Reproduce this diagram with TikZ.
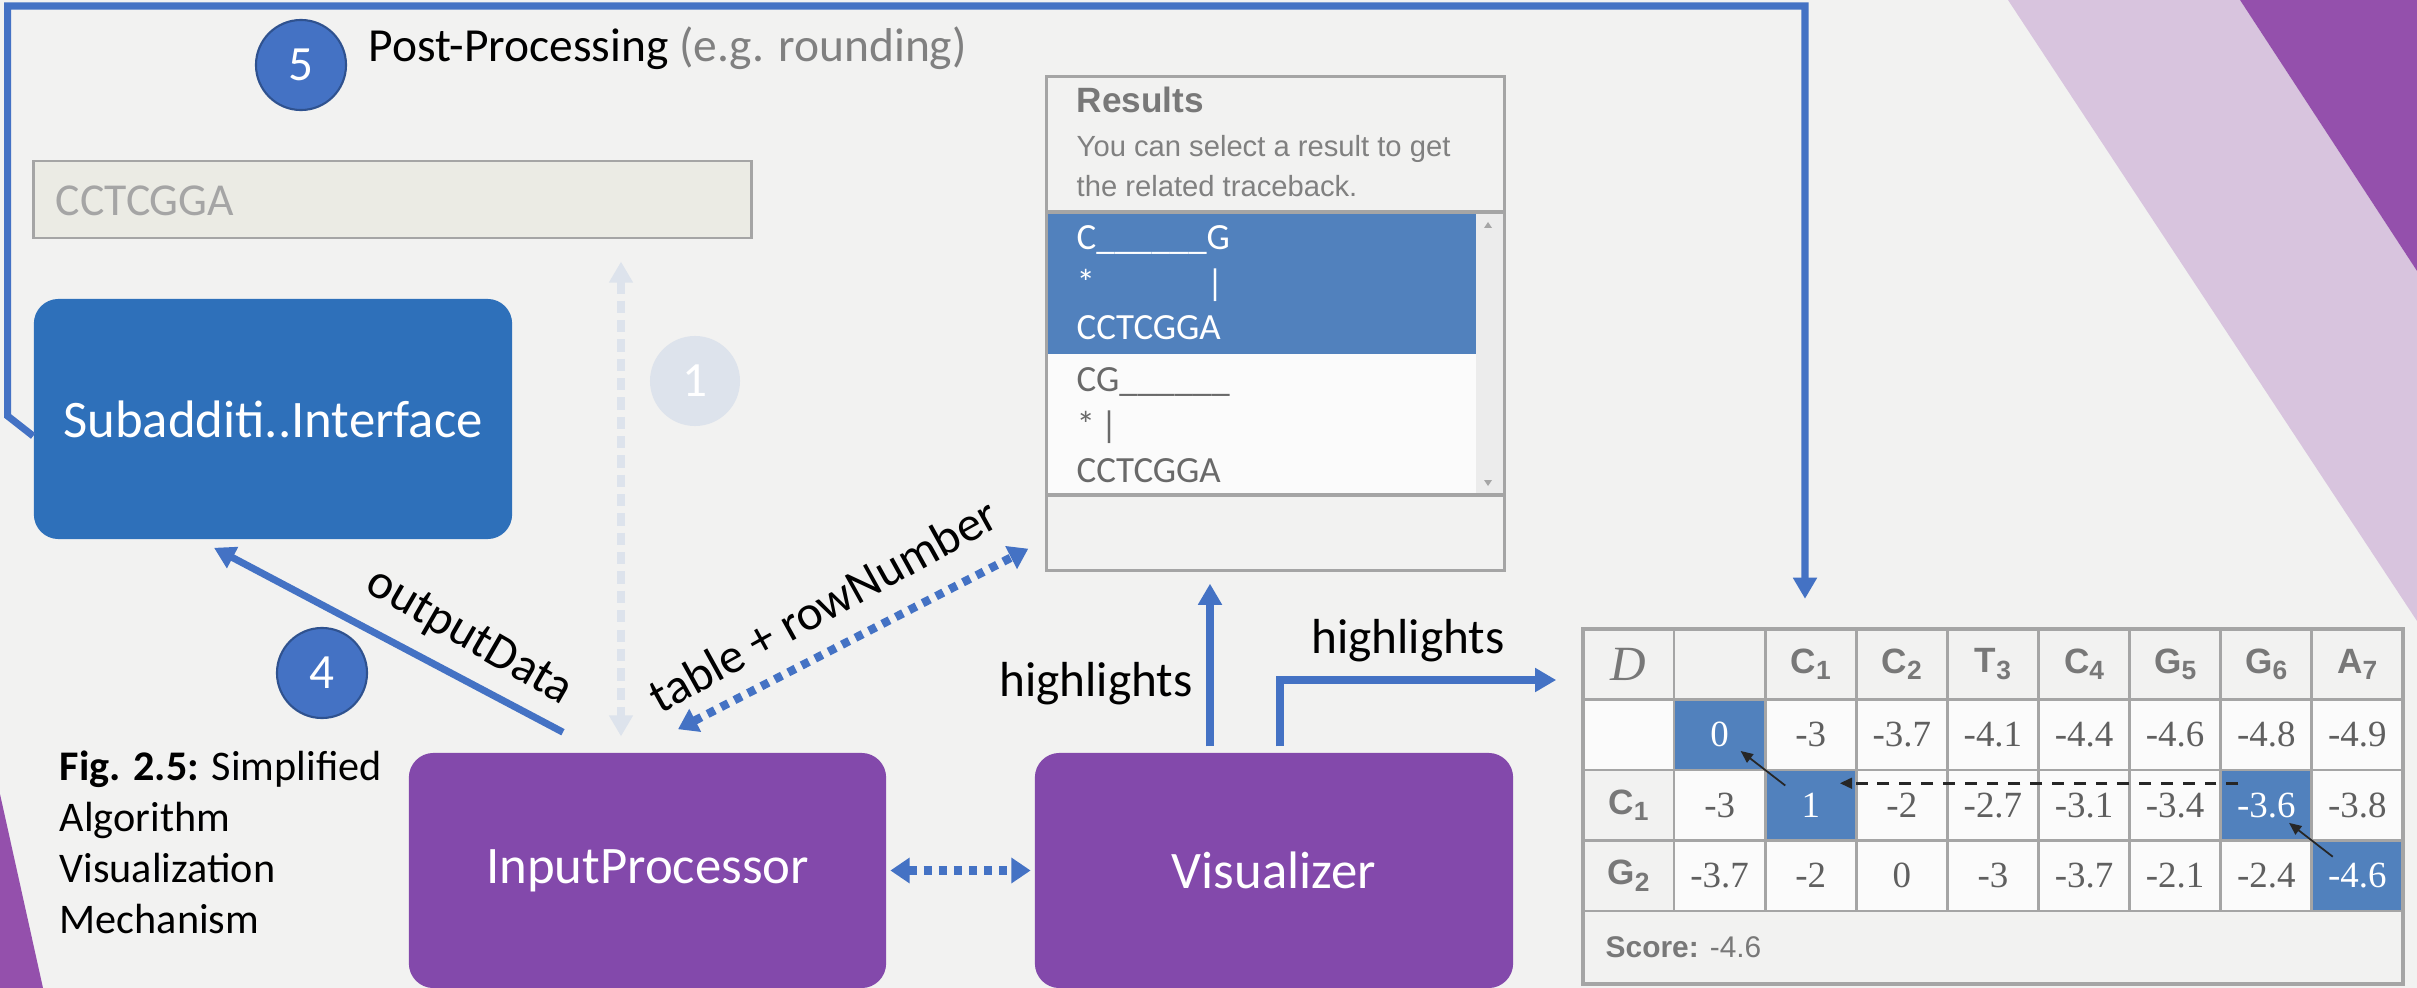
\documentclass[tikz,border=0pt]{standalone}
\usepackage{fontspec}
\setmainfont{Carlito}
\newfontfamily\arialf{Liberation Sans}
\newfontfamily\timesf{Liberation Serif}
\usepackage{tikz}
\usetikzlibrary{arrows.meta,calc,positioning}
\definecolor{bgray}{RGB}{242,242,241}
\definecolor{subblue}{RGB}{46,112,186}
\definecolor{procpurple}{RGB}{131,73,171}
\definecolor{flowblue}{RGB}{68,114,196}
\definecolor{ringblue}{RGB}{47,82,143}
\definecolor{faintblue}{RGB}{221,227,236}
\definecolor{selblue}{RGB}{81,129,189}
\definecolor{gridgray}{RGB}{165,165,165}
\definecolor{cellwhite}{RGB}{251,251,251}
\definecolor{numgray}{RGB}{95,95,95}
\definecolor{hdgray}{RGB}{120,120,120}
\definecolor{hintgray}{RGB}{128,128,128}
\definecolor{itemgray}{RGB}{105,105,105}
\definecolor{fieldfill}{RGB}{235,235,228}
\definecolor{fieldtext}{RGB}{165,165,165}
\definecolor{lilac}{RGB}{216,196,222}
\definecolor{plum}{RGB}{148,80,172}
\definecolor{scrollgray}{RGB}{236,236,236}
\newcommand{\sz}[1]{\fontsize{#1}{#1}\selectfont}
\newcommand{\colhd}[2]{{\arialf\bfseries\sz{10}#1\raisebox{-0.35ex}{\sz{7.5}#2}}}

\begin{document}
\begin{tikzpicture}[x=0.01cm,y=-0.01cm,
	flow/.style={draw=flowblue,line width=2pt,-{Triangle[width=6.5pt,length=6pt]}},
	dots/.style={draw=flowblue,line width=2.4pt,dash pattern=on 2.3pt off 2pt,{Triangle[width=7pt,length=5.5pt]}-{Triangle[width=7pt,length=5.5pt]}},
	faint/.style={draw=faintblue,line width=2pt,dash pattern=on 3.5pt off 2pt,{Triangle[width=6.5pt,length=6pt]}-{Triangle[width=6.5pt,length=6pt]}},
	comp/.style={rounded corners=7pt,text=white,font=\sz{15}},
	num/.style={circle,minimum size=0.9cm,inner sep=0pt,fill=flowblue,draw=ringblue,line width=0.6pt,text=white,font=\sz{14}},
	lbl/.style={font=\sz{14}},
	itm/.style={anchor=base west,inner sep=0pt,font=\sz{10.5}},
	cell/.style={draw=gridgray,line width=0.8pt,minimum width=0.911cm,minimum height=0.705cm,inner sep=0pt,fill=cellwhite,text=numgray,font=\timesf\sz{10.5}},
	hicell/.style={fill=selblue,text=white},
	hdcell/.style={fill=bgray,text=hdgray},
	plcell/.style={},
	back/.style={draw=black!85,line width=0.5pt,-{Triangle[width=3pt,length=3.5pt]}}]
	\fill[bgray] (0,0) rectangle (2417,988);
	\useasboundingbox (0,0) rectangle (2417,988);
	\fill[lilac] (2008,0) -- (2240,0) -- (2417,271) -- (2417,621) -- cycle;
	\fill[plum] (2240,0) -- (2417,0) -- (2417,271) -- cycle;
	\fill[plum] (0,794) -- (43,988) -- (0,988) -- cycle;

	\node[comp,fill=subblue,minimum width=4.78cm,minimum height=2.4cm] (sub) at (273,419) {Subadditi..Interface};
	\node[comp,fill=procpurple,minimum width=4.77cm,minimum height=2.35cm] (inp) at (647.5,870.5) {InputProcessor};
	\node[comp,fill=procpurple,minimum width=4.78cm,minimum height=2.35cm] (vis) at (1274,870.5) {Visualizer};

	\node[draw=gridgray,line width=0.8pt,fill=fieldfill,minimum width=7.17cm,minimum height=0.77cm] (field) at (392.5,199.5) {};
	\node[anchor=base west,inner sep=0pt,text=fieldtext,font=\sz{13}] (seq) at (55,216) {CCTCGGA};

	\node[num] (n5) at (301,65) {5};
	\node[anchor=base west,inner sep=0pt,font=\sz{13.5}] (post) at (368,62) {Post-Processing \textcolor{hintgray}{(e.g. rounding)}};
	\node[num] (n4) at (322,673) {4};
	\node[num,fill=faintblue,draw=none] (n1) at (695,381) {1};

	\node[anchor=north west,inner sep=0pt,align=left,font=\fontsize{12}{14.5}\selectfont] (cap) at (59,750) {\textbf{Fig. 2.5:} Simplified\\Algorithm\\Visualization\\Mechanism};

	\fill[selblue] (1048,213) rectangle (1476,354);
	\fill[cellwhite] (1048,354) rectangle (1476,495);
	\fill[scrollgray] (1476,213) rectangle (1503,495);
	\fill[gray!70] (1484,228) -- (1492,228) -- (1488,222) -- cycle;
	\fill[gray!70] (1484,480) -- (1492,480) -- (1488,486) -- cycle;
	\draw[gridgray,line width=0.9pt] (1047,212) -- (1504,212) (1047,495) -- (1504,495);
	\node[draw=gridgray,line width=0.9pt,minimum width=4.57cm,minimum height=4.93cm] (res) at (1275.5,323.5) {};
	\node[anchor=base west,inner sep=0pt,font=\arialf\bfseries\sz{10},text=hdgray] (rtitle) at (1076,113) {Results};
	\node[anchor=base west,inner sep=0pt,font=\arialf\sz{8.3},text=hintgray] (rhint1) at (1076,157) {You can select a result to get};
	\node[anchor=base west,inner sep=0pt,font=\arialf\sz{8.3},text=hintgray] (rhint2) at (1076,197) {the related traceback.};
	\node[itm,text=white] (a1) at (1076,250) {C\_\_\_\_\_\_G};
	\node[itm,text=white] (a2) at (1076,296) {*};
	\node[itm,text=white,anchor=base] (a3) at (1215,296) {|};
	\node[itm,text=white] (a4) at (1076,340) {CCTCGGA};
	\node[itm,text=itemgray] (b1) at (1076,392) {CG\_\_\_\_\_\_};
	\node[itm,text=itemgray] (b2) at (1076,438) {*};
	\node[itm,text=itemgray,anchor=base] (b3) at (1109,438) {|};
	\node[itm,text=itemgray] (b4) at (1076,482) {CCTCGGA};

	\foreach \v/\s [count=\j from 0] in {{\timesf\itshape\sz{14}D}/hdcell,{}/hdcell,\colhd{C}{1}/hdcell,\colhd{C}{2}/hdcell,\colhd{T}{3}/hdcell,\colhd{C}{4}/hdcell,\colhd{G}{5}/hdcell,\colhd{G}{6}/hdcell,\colhd{A}{7}/hdcell}
		\node[cell,\s] (c-0-\j) at ({1628.55+91.1*\j},664.25) {\v};
	\foreach \v/\s [count=\j from 0] in {{}/plcell,0/hicell,-3/plcell,-3.7/plcell,-4.1/plcell,-4.4/plcell,-4.6/plcell,-4.8/plcell,-4.9/plcell}
		\node[cell,\s] (c-1-\j) at ({1628.55+91.1*\j},734.75) {\v};
	\foreach \v/\s [count=\j from 0] in {\colhd{C}{1}/hdcell,-3/plcell,1/hicell,-2/plcell,-2.7/plcell,-3.1/plcell,-3.4/plcell,-3.6/hicell,-3.8/plcell}
		\node[cell,\s] (c-2-\j) at ({1628.55+91.1*\j},805.25) {\v};
	\foreach \v/\s [count=\j from 0] in {\colhd{G}{2}/hdcell,-3.7/plcell,-2/plcell,0/plcell,-3/plcell,-3.7/plcell,-2.1/plcell,-2.4/plcell,-4.6/hicell}
		\node[cell,\s] (c-3-\j) at ({1628.55+91.1*\j},875.75) {\v};
	\node[cell,hdcell,minimum width=8.2cm,minimum height=0.73cm] (score) at (1993,947.5) {};
	\node[anchor=west,inner sep=0pt,font=\arialf\sz{8.5},text=hdgray] (scoretxt) at (1605,947.5) {\textbf{Score:} -4.6};
	\node[draw=gridgray,line width=1.1pt,minimum width=8.2cm,minimum height=3.55cm] (tab) at (1993,806.5) {};
	\draw[back] ($(c-2-2)!0.28!(c-1-1)$) -- ($(c-2-2)!0.77!(c-1-1)$);
	\draw[back] ($(c-3-8)!0.27!(c-2-7)$) -- ($(c-3-8)!0.75!(c-2-7)$);
	\draw[back,line width=0.8pt,dash pattern=on 3.4pt off 2.8pt] ([xshift=0.19cm,yshift=0.22cm]c-2-7.west) -- ([xshift=-0.18cm,yshift=0.22cm]c-2-2.east);

	\coordinate (turn) at (1805,6);
	\coordinate (fx) at (621,0);
	\coordinate (hx) at (1210,0);
	\coordinate (hy) at (1280,680);
	\draw[flow,shorten >=8pt] ([yshift=-0.17cm]sub.west) -- ++(-25.5,-20) |- (turn) -- (turn |- tab.north);
	\draw[flow] ([xshift=-0.845cm,yshift=0.2cm]inp.north) -- ([xshift=-0.59cm,yshift=-0.08cm]sub.south);
	\draw[dots] ([xshift=0.305cm,yshift=0.23cm]inp.north) -- ([xshift=-0.17cm,yshift=0.23cm]res.south west);
	\draw[faint,shorten <=6.3pt,shorten >=4.5pt] (fx |- field.south) -- (fx |- inp.north);
	\draw[dots,shorten <=1pt,shorten >=1pt] (inp.east) -- (vis.west);
	\draw[flow,shorten <=1.7pt,shorten >=3.4pt] (hx |- vis.north) -- (hx |- res.south);
	\draw[flow,shorten <=1.7pt,shorten >=7pt] (hy |- vis.north) |- (hy -| tab.west);

	\node[lbl,rotate=-30] (lout) at (469,638) {outputData};
	\node[lbl,rotate=29] (ltab) at (823,605) {table + rowNumber};
	\node[lbl,anchor=base] (lhl1) at (1096,696) {highlights};
	\node[lbl,anchor=base] (lhl2) at (1408,653) {highlights};
\end{tikzpicture}
\end{document}
